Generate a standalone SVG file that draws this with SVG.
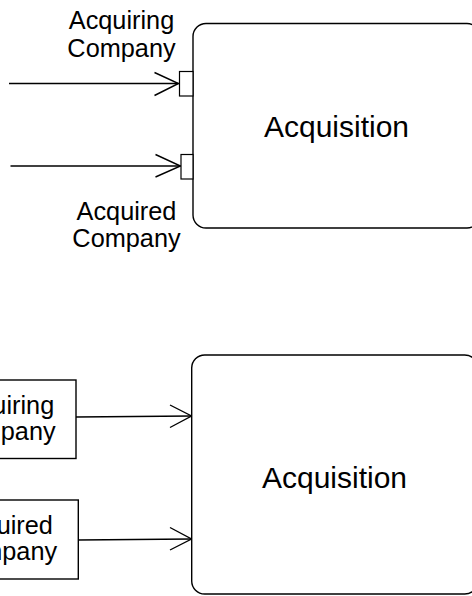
<svg xmlns="http://www.w3.org/2000/svg" width="472" height="596" viewBox="0 0 472 596">
<style>
.box{fill:#fff;stroke:#000;stroke-width:1.4}
.port{fill:#fff;stroke:#000;stroke-width:1.2}
.ln{fill:none;stroke:#000;stroke-width:1.4}
.t{font-family:"Liberation Sans",Arial,sans-serif;fill:#000;text-anchor:middle}
.lbl{font-size:25.3px}
.big{font-size:30px}
</style>
<rect width="472" height="596" fill="#fff"/>
<g id="connectors">
<line class="ln" x1="9" y1="83.5" x2="178.5" y2="83.5"/>
<polyline class="ln" points="154.5,72.5 178.5,83.5 154.5,95.5"/>
<line class="ln" x1="10.5" y1="166" x2="180.5" y2="166"/>
<polyline class="ln" points="155.5,154.5 180.5,166 155.5,177"/>
<line class="ln" x1="76" y1="417" x2="191.5" y2="416"/>
<polyline class="ln" points="170,405 191.5,416 170,427.5"/>
<line class="ln" x1="78" y1="540" x2="191.5" y2="539"/>
<polyline class="ln" points="170,527.5 191.5,539 170,550"/>
</g>
<g id="acquisition-top">
<rect class="box" x="193" y="23.5" width="287" height="204.5" rx="13" ry="13"/>
<rect class="port" x="179.5" y="71.5" width="13.5" height="24.5"/>
<rect class="port" x="181" y="154.5" width="12" height="24.5"/>
<text class="t big" x="336.5" y="136.5">Acquisition</text>
</g>
<g id="label-acquiring-top">
<text class="t lbl" x="121.5" y="28.5">Acquiring</text>
<text class="t lbl" x="121.5" y="56.5">Company</text>
</g>
<g id="label-acquired-top">
<text class="t lbl" x="126.5" y="219.5">Acquired</text>
<text class="t lbl" x="126.5" y="247">Company</text>
</g>
<g id="acquiring-company">
<rect class="box" x="-74" y="380" width="150" height="78.5"/>
<text class="t lbl" x="1.5" y="413.5">Acquiring</text>
<text class="t lbl" x="1.5" y="440">Company</text>
</g>
<g id="acquired-company">
<rect class="box" x="-73" y="500" width="151.3" height="79"/>
<text class="t lbl" x="3" y="533.5">Acquired</text>
<text class="t lbl" x="3" y="560">Company</text>
</g>
<g id="acquisition-bottom">
<rect class="box" x="191.7" y="355" width="286" height="239" rx="13" ry="13"/>
<text class="t big" x="334.5" y="488.3">Acquisition</text>
</g>
</svg>
